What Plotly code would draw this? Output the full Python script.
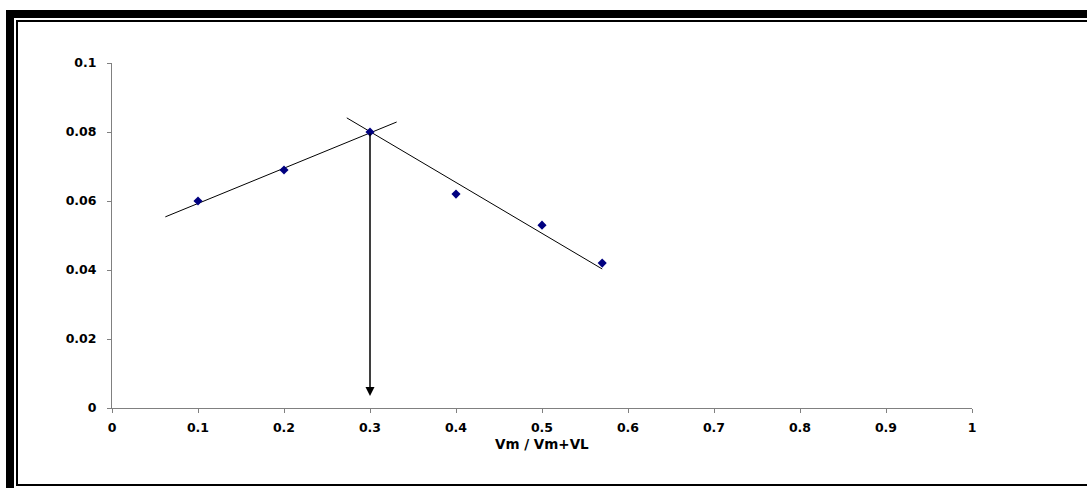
import plotly.graph_objects as go

# Data
x_ratio = [0.1, 0.2, 0.3, 0.4, 0.5, 0.57]
absorbance = [0.060, 0.069, 0.080, 0.062, 0.053, 0.042]

# Hand-drawn fit lines (endpoints, in data units)
rise_x = [0.062, 0.331]
rise_y = [0.0554, 0.0829]
fall_x = [0.273, 0.570]
fall_y = [0.0841, 0.0403]

# Drop line from the intersection to the x axis
drop_x = 0.3
drop_top = 0.080
drop_bottom = 0.0035

x_ticks = [0, 0.1, 0.2, 0.3, 0.4, 0.5, 0.6, 0.7, 0.8, 0.9, 1]
y_ticks = [0, 0.02, 0.04, 0.06, 0.08, 0.1]
x_title = "Vm / Vm+VL"

W, H = 1087, 488
L, R, T, B = 112, 115, 63, 80
PW, PH = W - L - R, H - T - B

def px(xp):
    return (xp - L) / PW

def py(yp):
    return (H - B - yp) / PH

fig = go.Figure()
fig.add_trace(go.Scatter(x=rise_x, y=rise_y, mode="lines",
                         line=dict(color="black", width=1), showlegend=False))
fig.add_trace(go.Scatter(x=fall_x, y=fall_y, mode="lines",
                         line=dict(color="black", width=1), showlegend=False))
fig.add_trace(go.Scatter(x=x_ratio, y=absorbance, mode="markers",
                         marker=dict(symbol="diamond", size=7, color="#000080"),
                         showlegend=False))

fig.add_annotation(x=drop_x, y=drop_bottom, ax=drop_x, ay=drop_top,
                   xref="x", yref="y", axref="x", ayref="y",
                   text="", showarrow=True, arrowhead=2, arrowsize=1.2,
                   arrowwidth=1.5, arrowcolor="black")

fig.add_annotation(x=px(542), y=py(444), xref="paper", yref="paper",
                   text=x_title, showarrow=False, xanchor="center", yanchor="middle",
                   font=dict(family="DejaVu Sans", size=13.5, color="black", weight="bold"))

# Frame (thick outer + thin inner)
shapes = []
def rect(x0, y0, x1, y1):
    shapes.append(dict(type="rect", xref="paper", yref="paper",
                       x0=px(x0), x1=px(x1), y0=py(y1), y1=py(y0),
                       fillcolor="black", line=dict(width=0), layer="above"))
rect(6, 10, 14, 488)
rect(6, 10, 1087, 18)
rect(16, 20, 18, 486)
rect(16, 20, 1087, 22)
rect(16, 484, 1087, 486)
fig.update_layout(shapes=shapes)

axis_font = dict(family="DejaVu Sans", size=12.5, color="black", weight="bold")
fig.update_xaxes(range=[0, 1], tickvals=x_ticks, ticktext=[f"{v:g}" for v in x_ticks],
                 showgrid=False, zeroline=False, showline=True, linecolor="#808080",
                 linewidth=1, ticks="outside", ticklen=4, tickcolor="#808080",
                 tickfont=axis_font, ticklabelstandoff=4)
fig.update_yaxes(range=[0, 0.1], tickvals=y_ticks, ticktext=[f"{v:g}" for v in y_ticks],
                 showgrid=False, zeroline=False, showline=True, linecolor="#808080",
                 linewidth=1, ticks="outside", ticklen=4, tickcolor="#808080",
                 tickfont=axis_font, ticklabelstandoff=8)

fig.update_layout(width=W, height=H, margin=dict(l=L, r=R, t=T, b=B),
                  paper_bgcolor="white", plot_bgcolor="white")

fig.write_html("out.html", config={"displayModeBar": False},
               post_script="document.body.style.margin='0px';document.body.style.overflow='hidden';")
